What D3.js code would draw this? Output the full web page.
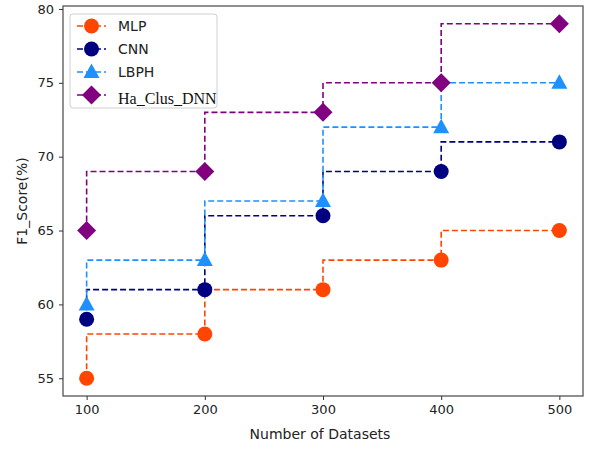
<!DOCTYPE html>
<html>
<head>
<meta charset="utf-8">
<script src="https://cdn.jsdelivr.net/npm/d3@7"></script>
<style>
  body { margin: 0; background: #fff; }
</style>
</head>
<body>
<script>

// data
const datasets = [100, 200, 300, 400, 500];
const mlp = [55, 58, 61, 63, 65];
const cnn = [59, 61, 66, 69, 71];
const lbph = [60, 63, 67, 72, 75];
const haClusDnn = [65, 69, 73, 75, 79];
const yTicks = [55, 60, 65, 70, 75, 80];

const series = [
	{ name: 'MLP', values: mlp, color: '#ff4500', shape: 'circle' },
	{ name: 'CNN', values: cnn, color: '#000080', shape: 'circle' },
	{ name: 'LBPH', values: lbph, color: '#1e90ff', shape: 'triangle' },
	{ name: 'Ha_Clus_DNN', values: haClusDnn, color: '#800080', shape: 'diamond' }
];

const width = 592;
const height = 450;
const plotL = 63, plotR = 583, plotT = 6, plotB = 396;
const sans = '"DejaVu Sans", sans-serif';

const svg = d3.select('body')
	.append('svg')
	.attr('width', width)
	.attr('height', height);

const xScale = d3.scaleLinear()
	.domain([80, 520])
	.range([plotL, plotR]);
const yScale = d3.scaleLinear()
	.domain([53.8, 80.2])
	.range([plotB, plotT]);

// frame
svg.append('rect')
	.attr('x', plotL)
	.attr('y', plotT)
	.attr('width', plotR - plotL)
	.attr('height', plotB - plotT)
	.attr('fill', 'none')
	.attr('stroke', '#555')
	.attr('stroke-width', 1.3);

const xAxis = d3.axisBottom(xScale).tickValues(datasets).tickSize(4).tickPadding(5);
const yAxis = d3.axisLeft(yScale).tickValues(yTicks).tickSize(4).tickPadding(5);

svg.append('g')
	.attr('transform', 'translate(0,' + plotB + ')')
	.call(xAxis)
	.call(g => g.select('.domain').remove());

svg.append('g')
	.attr('transform', 'translate(' + plotL + ',0)')
	.call(yAxis)
	.call(g => g.select('.domain').remove());

svg.selectAll('.tick line').attr('stroke', '#333');
svg.selectAll('.tick text')
	.attr('fill', '#222')
	.style('font-size', '13px')
	.style('font-family', sans);

// axis labels
svg.append('text')
	.attr('x', 320)
	.attr('y', 439)
	.attr('text-anchor', 'middle')
	.attr('fill', '#222')
	.style('font-size', '14px')
	.style('font-family', sans)
	.text('Number of Datasets');

svg.append('text')
	.attr('transform', 'translate(27,' + ((plotT + plotB) / 2) + ') rotate(-90)')
	.attr('text-anchor', 'middle')
	.attr('fill', '#222')
	.style('font-size', '14px')
	.style('font-family', sans)
	.text('F1_Score(%)');

const line = d3.line()
	.x((d, i) => xScale(datasets[i]))
	.y(d => yScale(d))
	.curve(d3.curveStepBefore);

function marker(g, shape, color) {
	if (shape === 'circle') {
		g.append('circle').attr('r', 7.5).attr('fill', color);
	} else if (shape === 'triangle') {
		g.append('path').attr('d', 'M0,-8.5L8,6L-8,6Z').attr('fill', color);
	} else {
		g.append('path').attr('d', 'M0,-9.5L9.5,0L0,9.5L-9.5,0Z').attr('fill', color);
	}
}

series.forEach(s => {
	svg.append('path')
		.datum(s.values)
		.attr('d', line)
		.attr('fill', 'none')
		.attr('stroke', s.color)
		.attr('stroke-width', 1.6)
		.attr('stroke-dasharray', '6,3');
});

series.forEach(s => {
	s.values.forEach((v, i) => {
		const g = svg.append('g')
			.attr('transform', 'translate(' + xScale(datasets[i]) + ',' + yScale(v) + ')');
		marker(g, s.shape, s.color);
	});
});

// legend
const legend = svg.append('g');
legend.append('rect')
	.attr('x', 70)
	.attr('y', 14)
	.attr('width', 147)
	.attr('height', 94)
	.attr('rx', 3)
	.attr('fill', 'rgba(255,255,255,0.85)')
	.attr('stroke', '#d0d0d0');

const legendY = [26, 49, 72, 95];
series.forEach((s, i) => {
	const y = legendY[i];
	legend.append('line')
		.attr('x1', 77).attr('x2', 106)
		.attr('y1', y).attr('y2', y)
		.attr('stroke', s.color)
		.attr('stroke-width', 1.6)
		.attr('stroke-dasharray', '6,3');
	const g = legend.append('g').attr('transform', 'translate(91.5,' + y + ')');
	marker(g, s.shape, s.color);
	const t = legend.append('text')
		.attr('x', 118)
		.attr('y', y + 5)
		.attr('fill', '#222')
		.style('font-size', '14px')
		.style('font-family', sans)
		.text(s.name);
	if (s.name === 'Ha_Clus_DNN') {
		t.style('font-family', '"Liberation Serif", "Times New Roman", serif')
			.style('font-size', '16px')
			.attr('fill', '#111')
			.attr('y', y + 9);
	}
});

</script>
</body>
</html>
